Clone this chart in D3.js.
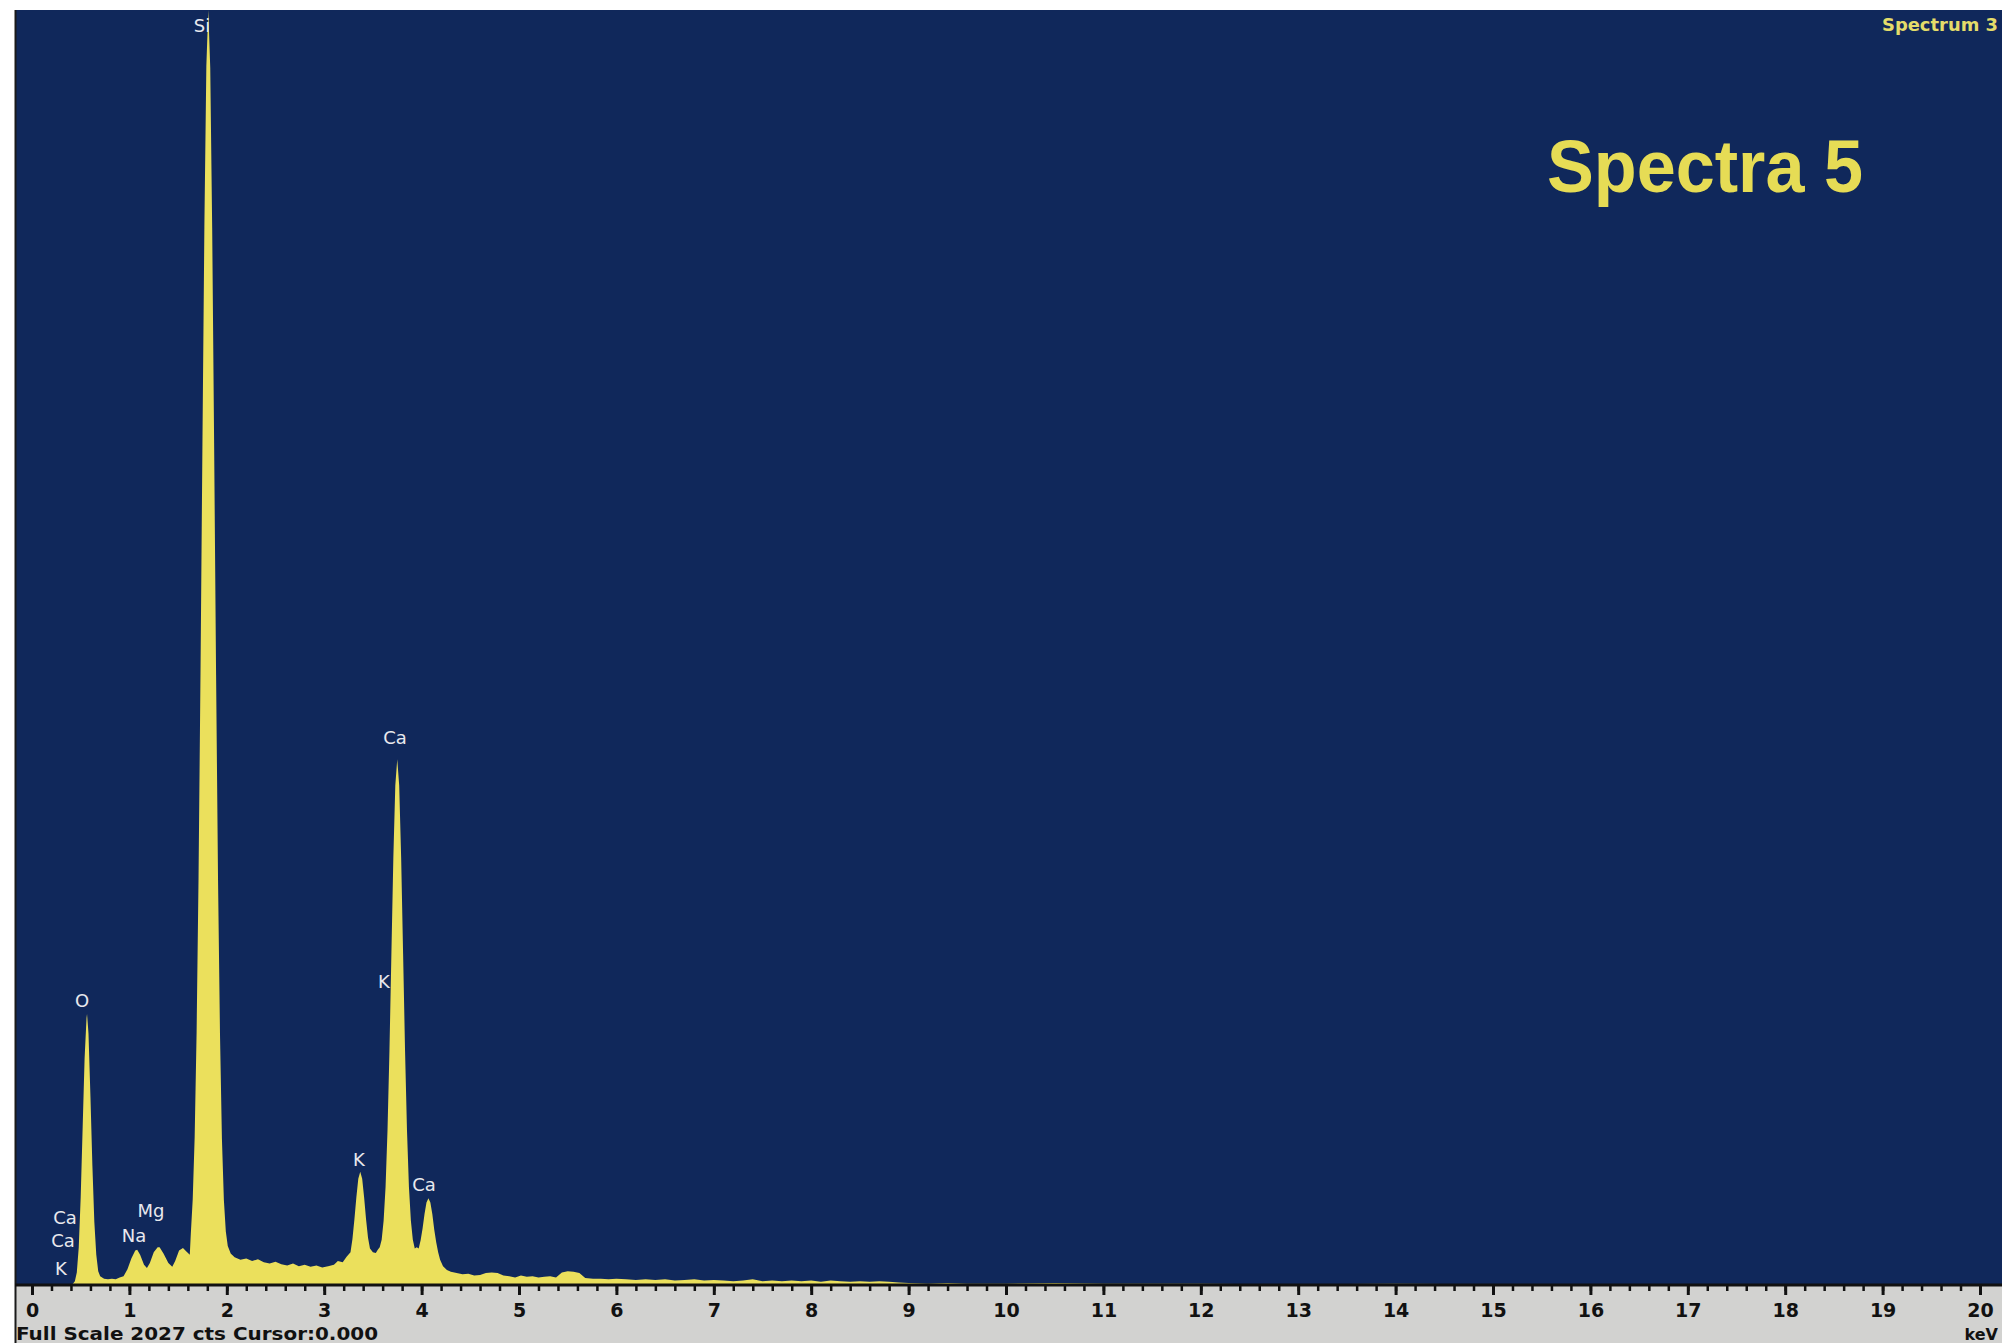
<!DOCTYPE html>
<html>
<head>
<meta charset="utf-8">
<script src="https://cdn.jsdelivr.net/npm/d3@7"></script>
<style>
  html, body { margin: 0; padding: 0; background: #ffffff; }
  svg { display: block; }
</style>
</head>
<body>
<script>
// ---------- DATA ----------
// energy in keV
const energy = [
  0.40, 0.42, 0.44, 0.46, 0.48, 0.50, 0.52, 0.54, 0.56, 0.565, 0.58, 0.60, 0.62, 0.64, 0.66, 0.68, 0.70,
  0.74, 0.78, 0.82, 0.86, 0.90, 0.94, 0.98, 1.02, 1.06, 1.08, 1.11, 1.15, 1.18, 1.21, 1.25, 1.29, 1.31,
  1.35, 1.40, 1.44, 1.47, 1.51, 1.55, 1.58, 1.62,
  1.63, 1.65, 1.67, 1.69, 1.71, 1.73, 1.75, 1.77, 1.79, 1.81, 1.83, 1.85, 1.87, 1.89, 1.91, 1.93, 1.95,
  1.97, 1.99, 2.01, 2.04,
  2.08, 2.14, 2.20, 2.26, 2.32, 2.38, 2.44, 2.50, 2.56, 2.62, 2.68, 2.74, 2.80, 2.86, 2.92, 2.98, 3.04,
  3.10, 3.14,
  3.19, 3.23, 3.27, 3.29, 3.31, 3.33, 3.35, 3.37, 3.39, 3.41, 3.43, 3.45, 3.47, 3.50, 3.53,
  3.55, 3.57, 3.59, 3.61, 3.63, 3.65, 3.67, 3.69, 3.71, 3.73, 3.75, 3.77, 3.79, 3.81, 3.83, 3.85, 3.87,
  3.89, 3.91, 3.93,
  3.95, 3.97, 3.99, 4.01, 4.03, 4.05, 4.07, 4.09, 4.11, 4.13, 4.15, 4.17, 4.19, 4.22, 4.26,
  4.30, 4.36, 4.42, 4.48, 4.54, 4.60, 4.66, 4.72, 4.78, 4.84, 4.90, 4.96, 5.02, 5.08, 5.14, 5.20, 5.26,
  5.32, 5.38, 5.44, 5.50, 5.56, 5.62, 5.68, 5.76, 5.84, 5.92, 6.00, 6.10, 6.20, 6.30, 6.40, 6.50, 6.60,
  6.70, 6.80, 6.90, 7.00, 7.10, 7.20, 7.30, 7.40, 7.50, 7.60, 7.70, 7.80, 7.90, 8.00, 8.10, 8.20, 8.30,
  8.40, 8.50, 8.60, 8.70, 8.80, 8.90, 9.00, 9.20, 9.40, 9.60, 10.0, 10.5, 11.0, 11.5, 12.0, 13.0, 14.0,
  15.0, 16.0, 17.0, 18.0, 19.0, 20.0, 20.2
];
// counts
const counts = [
  0, 2, 6, 20, 60, 140, 250, 360, 425, 431, 400, 300, 190, 100, 48, 22, 14,
  10, 9, 10, 9, 12, 14, 25, 42, 55, 56, 48, 32, 27, 35, 52, 60, 60,
  50, 35, 29, 38, 55, 59, 54, 48,
  80, 136, 235, 402, 649, 973, 1340, 1686, 1938, 2027, 1935, 1680, 1335, 970, 645, 400, 232,
  135, 85, 62, 50,
  44, 40, 42, 38, 41, 36, 34, 37, 33, 31, 34, 30, 32, 29, 31, 28, 30,
  32, 38,
  36, 45, 52, 73, 104, 139, 169, 180, 169, 139, 104, 75, 58, 52, 51,
  56, 60, 72, 102, 156, 246, 373, 527, 680, 794, 836, 794, 680, 527, 373, 246, 156,
  102, 72, 58,
  60, 58, 71, 90, 113, 131, 138, 131, 113, 88, 68, 52, 40, 30, 24,
  21, 19, 17, 18, 15, 16, 19, 20, 19, 15, 14, 12, 15, 13, 14, 12, 13,
  14, 12, 20, 22, 21, 19, 11, 10, 10, 9, 10, 9, 8, 9, 8, 9, 7,
  8, 9, 7, 8, 7, 6, 7, 9, 6, 7, 6, 7, 6, 7, 5, 7, 6,
  5, 6, 5, 6, 5, 4, 3, 2, 3, 2, 2, 3, 2, 2, 2, 1, 2,
  1, 1, 1, 1, 1, 1, 1
];
// element markers
const markerText  = ["Si", "O", "Ca", "Ca", "K", "Na", "Mg", "K", "Ca", "Ca", "K"];
const markerKeV   = [1.745, 0.513, 0.339, 0.318, 0.298, 1.047, 1.222, 3.357, 4.025, 3.727, 3.614];
const markerCount = [2003, 453, 108, 70, 27, 78, 118, 200, 159, 871, 483];
// axis
const tickValues = d3.range(0, 21, 1);
const minorTicks = d3.range(0, 20.01, 0.2);
const fullScale = 2027;
const titleText = "Spectra 5";
const spectrumName = "Spectrum 3";
const footerText = "Full Scale 2027 cts Cursor:0.000";
const unitText = "keV";

// ---------- LAYOUT ----------
const W = 2002, H = 1343;
const plotLeft = 15, plotRight = 2002, plotTop = 10, plotBottom = 1285;

const svg = d3.select("body").append("svg").attr("width", W).attr("height", H);

const x = d3.scaleLinear().domain([0, 20]).range([32, 1980]);
const y = d3.scaleLinear().domain([0, fullScale]).range([plotBottom, plotTop]);

// white page
svg.append("rect").attr("x", 0).attr("y", 0).attr("width", W).attr("height", H).attr("fill", "#ffffff");

// axis band
svg.append("rect").attr("x", plotLeft).attr("y", plotBottom).attr("width", W - plotLeft).attr("height", H - plotBottom)
  .attr("fill", "#d2d2d0");

// plot background
svg.append("rect").attr("x", plotLeft).attr("y", plotTop).attr("width", plotRight - plotLeft).attr("height", plotBottom - plotTop)
  .attr("fill", "#10285b");

svg.append("defs").append("clipPath").attr("id", "clip")
  .append("rect").attr("x", plotLeft).attr("y", plotTop).attr("width", plotRight - plotLeft).attr("height", plotBottom - plotTop);

const data = energy.map((e, i) => ({ e, c: counts[i] }));
const area = d3.area().x(d => x(d.e)).y0(y(0)).y1(d => y(Math.min(d.c, fullScale))).curve(d3.curveLinear);

svg.append("path").datum(data).attr("d", area).attr("fill", "#ebe05c").attr("clip-path", "url(#clip)");

// left border line
svg.append("line").attr("x1", plotLeft + 0.5).attr("x2", plotLeft + 0.5).attr("y1", plotTop).attr("y2", H)
  .attr("stroke", "#1a1a1a").attr("stroke-width", 2);

// x axis line
svg.append("line").attr("x1", plotLeft).attr("x2", W).attr("y1", plotBottom).attr("y2", plotBottom)
  .attr("stroke", "#111111").attr("stroke-width", 3);

// minor ticks
svg.append("g").attr("transform", `translate(0,${plotBottom})`)
  .call(d3.axisBottom(x).tickValues(minorTicks).tickSize(6).tickFormat(""))
  .call(g => g.select(".domain").remove())
  .call(g => g.selectAll("line").attr("stroke", "#111").attr("stroke-width", 2.5));

// major ticks + labels
svg.append("g").attr("transform", `translate(0,${plotBottom})`)
  .call(d3.axisBottom(x).tickValues(tickValues).tickSize(10).tickPadding(9).tickFormat(d3.format("d")))
  .call(g => g.select(".domain").remove())
  .call(g => g.selectAll("line").attr("stroke", "#111").attr("stroke-width", 3))
  .call(g => g.selectAll("text")
    .attr("fill", "#111").attr("font-family", "'DejaVu Sans', sans-serif").attr("font-weight", "bold")
    .attr("font-size", 19));

// footer text
svg.append("text").attr("x", plotLeft + 1).attr("y", 1340).text(footerText)
  .attr("font-family", "'DejaVu Sans', sans-serif").attr("font-weight", "bold").attr("font-size", 18)
  .attr("fill", "#111").attr("textLength", 362).attr("lengthAdjust", "spacingAndGlyphs");

svg.append("text").attr("x", 1998).attr("y", 1340).attr("text-anchor", "end").text(unitText)
  .attr("font-family", "'DejaVu Sans', sans-serif").attr("font-weight", "bold").attr("font-size", 16)
  .attr("fill", "#111");

// element markers
svg.append("g").selectAll("text").data(markerText).join("text")
  .attr("x", (d, i) => x(markerKeV[i]))
  .attr("y", (d, i) => y(markerCount[i]))
  .attr("text-anchor", "middle").attr("dominant-baseline", "central")
  .attr("font-family", "'DejaVu Sans', sans-serif").attr("font-size", 18)
  .attr("fill", "#e8e8ee")
  .text(d => d);

// title
svg.append("text").attr("x", 1547).attr("y", 192).text(titleText)
  .attr("font-family", "'Liberation Sans', Arial, sans-serif").attr("font-weight", "bold").attr("font-size", 74)
  .attr("fill", "#e6dc55").attr("textLength", 316).attr("lengthAdjust", "spacingAndGlyphs");

// spectrum label (right edge)
svg.append("text").attr("x", 1882).attr("y", 31).text(spectrumName)
  .attr("font-family", "'DejaVu Sans', sans-serif").attr("font-weight", "bold").attr("font-size", 17)
  .attr("fill", "#e4dc6a").attr("textLength", 116).attr("lengthAdjust", "spacingAndGlyphs");
</script>
</body>
</html>
